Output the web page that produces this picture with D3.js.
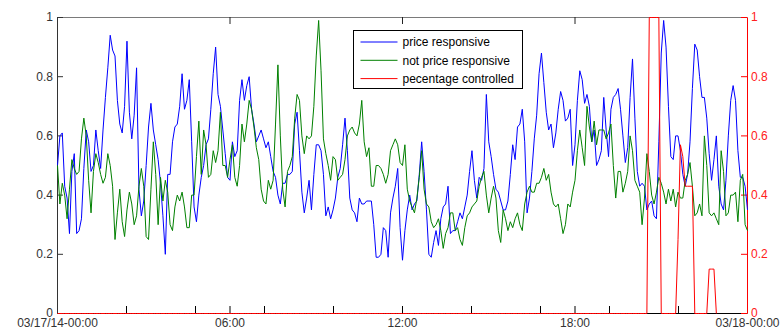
<!DOCTYPE html>
<html><head><meta charset="utf-8">
<script src="https://cdn.jsdelivr.net/npm/d3@7"></script>
<style>
body{margin:0;background:#fff}
svg{display:block}
text{font-family:"Liberation Sans",Arial,sans-serif;font-size:12px}
</style>
</head><body>
<svg id="chart" width="781" height="329"></svg>
<script>
// ---- data ----
const seriesNames = ["price responsive", "not price responsive", "pecentage controlled"];
const startDate = new Date(Date.UTC(2014, 2, 17, 0, 0));
const endDate = new Date(Date.UTC(2014, 2, 18, 0, 0));
const sampleMinutes = 5;

const priceResponsive = [
0.50,0.60,0.61,0.43,0.39,0.27,0.48,0.54,0.27,0.28,
0.32,0.49,0.62,0.58,0.48,0.50,0.62,0.55,0.49,0.62,
0.73,0.83,0.94,0.89,0.87,0.72,0.64,0.61,0.70,0.92,
0.68,0.59,0.67,0.83,0.42,0.33,0.38,0.50,0.63,0.71,
0.62,0.57,0.52,0.44,0.33,0.20,0.47,0.47,0.58,0.63,
0.64,0.70,0.81,0.69,0.72,0.79,0.58,0.36,0.31,0.40,
0.46,0.50,0.57,0.59,0.69,0.81,0.90,0.74,0.70,0.62,
0.54,0.46,0.45,0.58,0.53,0.55,0.72,0.79,0.72,0.77,
0.80,0.69,0.64,0.58,0.60,0.62,0.59,0.56,0.58,0.53,
0.48,0.46,0.40,0.37,0.44,0.44,0.47,0.47,0.48,0.64,
0.68,0.55,0.41,0.34,0.39,0.45,0.35,0.47,0.57,0.57,
0.55,0.47,0.33,0.36,0.32,0.35,0.39,0.46,0.49,0.57,
0.66,0.55,0.39,0.35,0.34,0.31,0.39,0.37,0.37,0.38,
0.38,0.38,0.30,0.19,0.19,0.20,0.29,0.28,0.19,0.34,
0.39,0.43,0.49,0.29,0.18,0.28,0.35,0.40,0.35,0.37,
0.38,0.47,0.58,0.48,0.35,0.20,0.19,0.24,0.28,0.23,
0.32,0.36,0.37,0.43,0.27,0.28,0.28,0.31,0.34,0.32,
0.36,0.40,0.48,0.55,0.45,0.39,0.46,0.45,0.49,0.74,
0.58,0.53,0.47,0.42,0.41,0.38,0.35,0.35,0.38,0.47,
0.57,0.52,0.63,0.64,0.69,0.58,0.34,0.39,0.48,0.59,
0.67,0.81,0.88,0.78,0.68,0.62,0.64,0.56,0.61,0.69,
0.75,0.72,0.65,0.66,0.69,0.50,0.57,0.72,0.82,0.79,
0.71,0.74,0.70,0.58,0.62,0.50,0.52,0.55,0.73,0.62,
0.53,0.69,0.73,0.74,0.76,0.69,0.60,0.51,0.56,0.73,
0.86,0.66,0.48,0.43,0.44,0.43,0.35,0.37,0.38,0.33,
0.32,0.58,0.88,0.99,0.90,0.70,0.53,0.52,0.60,0.60,
0.55,0.47,0.43,0.47,0.58,0.76,0.91,0.89,0.80,0.73,
0.73,0.66,0.54,0.45,0.52,0.60,0.43,0.37,0.35,0.45,
0.60,0.72,0.77,0.72,0.55,0.46,0.46,0.43,0.35
];

const notPriceResponsive = [
0.50,0.37,0.44,0.40,0.32,0.42,0.52,0.49,0.47,0.48,
0.59,0.66,0.60,0.45,0.34,0.48,0.54,0.51,0.47,0.44,
0.46,0.54,0.50,0.43,0.25,0.34,0.42,0.31,0.26,0.35,
0.41,0.37,0.30,0.33,0.43,0.49,0.43,0.26,0.25,0.42,
0.58,0.47,0.30,0.46,0.38,0.45,0.41,0.30,0.28,0.36,
0.40,0.38,0.41,0.36,0.29,0.29,0.40,0.40,0.53,0.65,
0.47,0.62,0.57,0.46,0.47,0.55,0.51,0.55,0.68,0.50,
0.50,0.46,0.52,0.57,0.46,0.43,0.50,0.64,0.58,0.64,
0.72,0.69,0.63,0.56,0.52,0.42,0.38,0.37,0.45,0.42,
0.45,0.64,0.84,0.60,0.42,0.36,0.48,0.50,0.53,0.66,
0.74,0.72,0.60,0.54,0.60,0.59,0.60,0.70,0.87,0.99,
0.82,0.59,0.54,0.50,0.45,0.53,0.52,0.45,0.46,0.47,
0.52,0.60,0.62,0.63,0.61,0.60,0.64,0.72,0.58,0.53,
0.56,0.43,0.43,0.50,0.50,0.49,0.47,0.44,0.47,0.55,
0.57,0.59,0.57,0.51,0.50,0.57,0.42,0.38,0.36,0.34,
0.39,0.46,0.55,0.42,0.37,0.36,0.31,0.29,0.30,0.32,
0.28,0.22,0.27,0.29,0.34,0.34,0.28,0.29,0.25,0.23,
0.29,0.33,0.34,0.36,0.37,0.38,0.43,0.46,0.48,0.40,
0.34,0.39,0.43,0.39,0.28,0.24,0.35,0.32,0.28,0.31,
0.29,0.32,0.34,0.30,0.28,0.37,0.41,0.43,0.41,0.41,
0.44,0.44,0.46,0.49,0.45,0.47,0.41,0.37,0.36,0.37,
0.32,0.27,0.30,0.37,0.36,0.41,0.45,0.55,0.62,0.56,
0.50,0.70,0.63,0.58,0.65,0.57,0.62,0.62,0.62,0.59,
0.61,0.64,0.50,0.39,0.48,0.48,0.41,0.44,0.48,0.60,
0.55,0.45,0.43,0.41,0.30,0.39,0.54,0.48,0.40,0.37,
0.41,0.46,0.44,0.41,0.37,0.42,0.38,0.42,0.36,0.41,
0.39,0.39,0.45,0.47,0.51,0.43,0.33,0.34,0.37,0.33,
0.60,0.50,0.34,0.33,0.34,0.32,0.30,0.55,0.48,0.33,
0.34,0.40,0.40,0.41,0.31,0.45,0.47,0.30,0.28
];

const percentageControlled = [
0,0,0,0,0,0,0,0,0,0,0,0,0,0,0,0,0,0,0,0,
0,0,0,0,0,0,0,0,0,0,0,0,0,0,0,0,0,0,0,0,
0,0,0,0,0,0,0,0,0,0,0,0,0,0,0,0,0,0,0,0,
0,0,0,0,0,0,0,0,0,0,0,0,0,0,0,0,0,0,0,0,
0,0,0,0,0,0,0,0,0,0,0,0,0,0,0,0,0,0,0,0,
0,0,0,0,0,0,0,0,0,0,0,0,0,0,0,0,0,0,0,0,
0,0,0,0,0,0,0,0,0,0,0,0,0,0,0,0,0,0,0,0,
0,0,0,0,0,0,0,0,0,0,0,0,0,0,0,0,0,0,0,0,
0,0,0,0,0,0,0,0,0,0,0,0,0,0,0,0,0,0,0,0,
0,0,0,0,0,0,0,0,0,0,0,0,0,0,0,0,0,0,0,0,
0,0,0,0,0,0,0,0,0,0,0,0,0,0,0,0,0,0,0,0,
0,0,0,0,0,0,0,0,0,0,0,0,0,0,0,0,0,0,0,0,
0,0,0,0,0,0,0,
1,1,1,1,1,
0,0,0,0,0,0,0,
0.25,0.57,0.53,0.43,0.43,0.43,0.43,
0,0,0,0,0,0,
0.15,0.15,0.15,
0
];

const leftTicks = [0, 0.2, 0.4, 0.6, 0.8, 1];
const rightTicks = [0, 0.2, 0.4, 0.6, 0.8, 1];
const minorTickHours = [0, 2.4, 4.8, 6, 7.2, 9.6, 12, 14.4, 16.8, 18, 19.2, 21.6, 24];
const topTickHours = [6, 12, 18];
const labelTickHours = [0, 6, 12, 18, 24];
const labelTickText = ["03/17/14-00:00", "06:00", "12:00", "18:00", "03/18-00:00"];
const seriesColors = ["#0000ff", "#008000", "#ff0000"];

// ---- chart ----
const svg = d3.select("#chart");
const W = 781, H = 329;
const m = {left: 57, right: 747, top: 17, bottom: 313};
const hourDate = h => new Date(startDate.getTime() + h * 3600000);
const sampleDate = i => new Date(startDate.getTime() + i * sampleMinutes * 60000);

const x = d3.scaleUtc().domain([startDate, endDate]).range([m.left, m.right]);
const y = d3.scaleLinear().domain([0, 1]).range([m.bottom, m.top]);
const y2 = d3.scaleLinear().domain([0, 1]).range([m.bottom, m.top]);

svg.append("rect").attr("width", W).attr("height", H).attr("fill", "#fff");

// top border with ticks
const topAxis = svg.append("g").attr("transform", `translate(0,${m.top})`)
  .call(d3.axisTop(x).tickValues(topTickHours.map(hourDate)).tickSize(-7).tickSizeOuter(0).tickFormat(""));
topAxis.select(".domain").attr("stroke", "#7a7a7a");
topAxis.selectAll(".tick line").attr("stroke", "#222");

// bottom axis ticks
const botAxis = svg.append("g").attr("transform", `translate(0,${m.bottom})`)
  .call(d3.axisBottom(x).tickValues(minorTickHours.map(hourDate)).tickSize(-7).tickSizeOuter(0).tickFormat(""));
botAxis.select(".domain").attr("stroke", "#000");
botAxis.selectAll(".tick line").attr("stroke", "#000");

// bottom labels
const labAxis = svg.append("g").attr("transform", `translate(0,${m.bottom})`)
  .call(d3.axisBottom(x).tickValues(labelTickHours.map(hourDate)).tickSize(0).tickPadding(5.5)
    .tickFormat((d, i) => labelTickText[i]));
labAxis.select(".domain").remove();
labAxis.selectAll("text").attr("fill", "#333").style("font-size", "12px").style("font-family", "'Liberation Sans',Arial,sans-serif");

// left axis
const leftAxis = svg.append("g").attr("transform", `translate(${m.left},0)`)
  .call(d3.axisLeft(y).tickValues(leftTicks).tickSize(-6).tickSizeOuter(0).tickPadding(4).tickFormat(d3.format("~g")));
leftAxis.select(".domain").attr("stroke", "#333");
leftAxis.selectAll(".tick line").attr("stroke", "#333");
leftAxis.selectAll("text").attr("fill", "#333").style("font-size", "12px").style("font-family", "'Liberation Sans',Arial,sans-serif");

// right axis
const rightAxis = svg.append("g").attr("transform", `translate(${m.right},0)`)
  .call(d3.axisRight(y2).tickValues(rightTicks).tickSize(-6).tickSizeOuter(0).tickPadding(4).tickFormat(d3.format("~g")));
rightAxis.select(".domain").attr("stroke", "#ff0000");
rightAxis.selectAll(".tick line").attr("stroke", "#ff0000");
rightAxis.selectAll("text").attr("fill", "#ff2020").style("font-size", "12px").style("font-family", "'Liberation Sans',Arial,sans-serif");

// series
svg.append("clipPath").attr("id", "clip").append("rect")
  .attr("x", m.left).attr("y", m.top - 1).attr("width", m.right - m.left + 1).attr("height", m.bottom - m.top + 2);

const plot = svg.append("g").attr("clip-path", "url(#clip)").append("g").attr("transform", "translate(0.5,0.5)");
const line = scale => d3.line().x((d, i) => x(sampleDate(i))).y(d => scale(d));

plot.append("path").datum(priceResponsive).attr("d", line(y))
  .attr("fill", "none").attr("stroke", seriesColors[0]).attr("stroke-width", 1);
plot.append("path").datum(notPriceResponsive).attr("d", line(y))
  .attr("fill", "none").attr("stroke", seriesColors[1]).attr("stroke-width", 1);
plot.append("path").datum(percentageControlled).attr("d", line(y2))
  .attr("fill", "none").attr("stroke", seriesColors[2]).attr("stroke-width", 1);

// legend
const lg = svg.append("g").attr("transform", "translate(353.5,30.5)");
lg.append("rect").attr("width", 169).attr("height", 58).attr("fill", "#fff").attr("stroke", "#000");
seriesNames.forEach((name, i) => {
  const yy = 11.5 + i * 18.3;
  lg.append("line").attr("x1", 7).attr("x2", 44).attr("y1", yy).attr("y2", yy)
    .attr("stroke", seriesColors[i]).attr("stroke-width", 1);
  lg.append("text").attr("x", 49).attr("y", yy).attr("dy", "0.35em").attr("fill", "#000").text(name);
});
</script>
</body></html>
